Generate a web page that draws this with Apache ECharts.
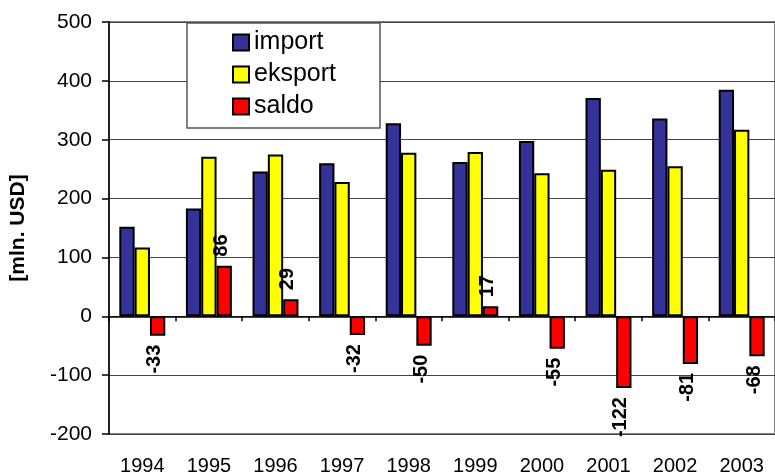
<!DOCTYPE html>
<html>
<head>
<meta charset="utf-8">
<script src="https://cdn.jsdelivr.net/npm/echarts@6/dist/echarts.min.js"></script>
<style>
html,body{margin:0;padding:0;background:#fff;}
#c{width:775px;height:476px;}
</style>
</head>
<body>
<div id="c"></div>
<script>
const years = ['1994','1995','1996','1997','1998','1999','2000','2001','2002','2003'];
const importVals = [152, 183, 246, 260, 328, 262, 298, 371, 336, 385];
const eksportVals = [117, 271, 275, 228, 278, 279, 243, 249, 255, 317];
const saldoVals = [-33, 86, 29, -32, -50, 17, -55, -122, -81, -68];
const seriesNames = ['import', 'eksport', 'saldo'];
const yTicks = { min: -200, max: 500, interval: 100 };

const chart = echarts.init(document.getElementById('c'), null, { renderer: 'canvas' });

const labelBase = {
  show: true, rotate: 90, fontFamily: 'Liberation Sans, Arial, sans-serif',
  fontWeight: 'bold', fontSize: 20, color: '#000', distance: 9, offset: [0, -3]
};
const saldoData = saldoVals.map(v => ({
  value: v,
  label: v >= 0
    ? Object.assign({}, labelBase, { position: 'top', align: 'left', verticalAlign: 'middle' })
    : Object.assign({}, labelBase, { position: 'bottom', align: 'right', verticalAlign: 'middle' })
}));

const barStyle = c => ({ color: c, borderColor: '#000', borderWidth: 2 });

chart.setOption({
  backgroundColor: '#fff',
  animation: false,
  textStyle: { fontFamily: 'Liberation Sans, Arial, sans-serif' },
  grid: { left: 107, right: -6, top: 22, bottom: 40, show: true, borderColor: '#808080', borderWidth: 2, backgroundColor: 'transparent' },
  legend: {
    data: seriesNames,
    orient: 'vertical',
    left: 187, top: 23,
    backgroundColor: '#fff',
    borderColor: '#555', borderWidth: 1.5,
    padding: [7, 44, 9, 45],
    itemGap: 7,
    itemWidth: 16, itemHeight: 16,
    icon: 'rect',
    textStyle: { fontSize: 25, color: '#000', fontFamily: 'Liberation Sans, Arial, sans-serif' }
  },
  xAxis: [
    {
      type: 'category', data: years, position: 'bottom',
      axisLine: { show: false, onZero: false },
      axisTick: { show: false },
      axisLabel: { fontSize: 20, color: '#000', margin: 22 }
    },
    {
      type: 'category', data: years, position: 'top',
      axisLine: { show: true, onZero: true, lineStyle: { color: '#000', width: 1.5 } },
      axisTick: { show: true, inside: true, length: 5, lineStyle: { color: '#000', width: 1.5 } },
      axisLabel: { show: false }
    }
  ],
  yAxis: {
    type: 'value', min: yTicks.min, max: yTicks.max, interval: yTicks.interval,
    name: '[mln. USD]', nameLocation: 'middle', nameGap: 80,
    nameTextStyle: { fontSize: 21, fontWeight: 'bold', color: '#000' },
    axisLine: { show: true, lineStyle: { color: '#000', width: 1.5 } },
    axisTick: { show: true, length: 7, lineStyle: { color: '#000', width: 1.5 } },
    axisLabel: { fontSize: 21, color: '#000', margin: 17 },
    splitLine: { show: true, lineStyle: { color: '#444', width: 1 } }
  },
  series: [
    { name: 'import', type: 'bar', data: importVals, barCategoryGap: '31%', barGap: '0%', itemStyle: barStyle('#333399') },
    { name: 'eksport', type: 'bar', data: eksportVals, barCategoryGap: '31%', barGap: '0%', itemStyle: barStyle('#FFFF00') },
    { name: 'saldo', type: 'bar', data: saldoData, barCategoryGap: '31%', barGap: '0%', itemStyle: barStyle('#FF0000') }
  ]
});
</script>
</body>
</html>
